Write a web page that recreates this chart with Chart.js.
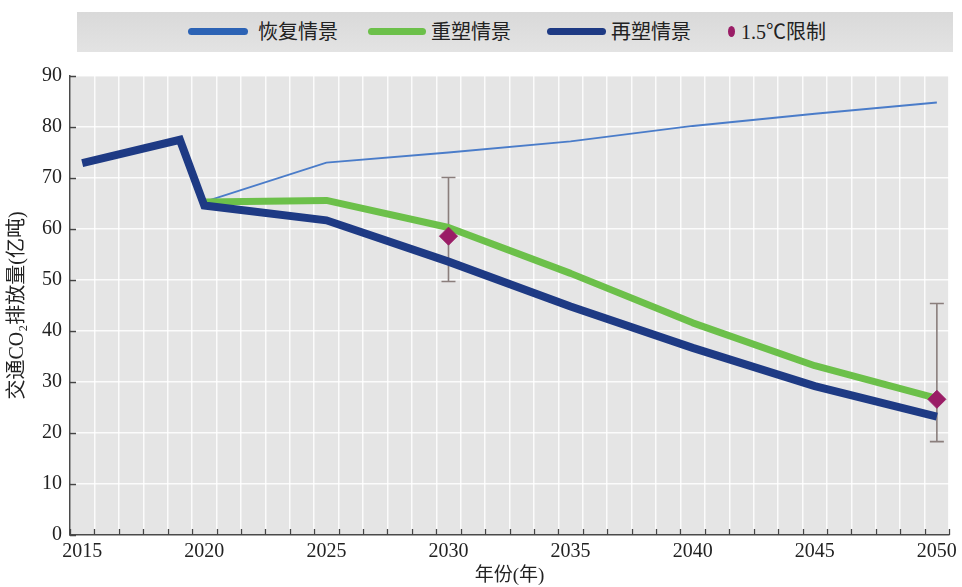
<!DOCTYPE html>
<html lang="zh">
<head>
<meta charset="utf-8">
<title>交通CO₂排放量</title>
<script src="https://cdn.jsdelivr.net/npm/chart.js@4/dist/chart.umd.min.js"></script>
<style>
  html, body { margin: 0; padding: 0; background: #ffffff; }
  #wrap { position: relative; width: 962px; height: 587px; overflow: hidden; }
  #chart { position: absolute; left: 0; top: 0; }
  #legend {
    position: absolute; left: 77px; top: 12px; width: 876px; height: 40px;
    background: linear-gradient(#d9d9d9, #e3e3e3);
    font-family: 'Liberation Serif', 'Noto Sans CJK SC', serif;
    font-size: 20px; color: #222;
  }
  .sw { position: absolute; top: 16px; height: 7px; border-radius: 4px; }
  .lt { position: absolute; top: 6px; line-height: 28px; white-space: nowrap; }
  .dot { position: absolute; top: 14px; width: 7px; height: 11px; border-radius: 50%; background: #9a1d66; }
</style>
</head>
<body>
<div id="wrap">
  <canvas id="chart" width="962" height="587"></canvas>
  <div id="legend">
    <span class="sw" style="left:111px;width:60px;background:#2c63b5"></span>
    <span class="lt" style="left:181px">恢复情景</span>
    <span class="sw" style="left:291px;width:58px;background:#6cc04a"></span>
    <span class="lt" style="left:354px">重塑情景</span>
    <span class="sw" style="left:470px;width:59px;background:#1e3a84"></span>
    <span class="lt" style="left:534px">再塑情景</span>
    <span class="dot" style="left:651px"></span>
    <span class="lt" style="left:664px">1.5℃限制</span>
  </div>
</div>
<script>
// Year categories along the x axis
const years = ['2015','2016','2017','2018','2019','2020','2021','2022','2023','2024',
  '2025','2026','2027','2028','2029','2030','2031','2032','2033','2034',
  '2035','2036','2037','2038','2039','2040','2041','2042','2043','2044',
  '2045','2046','2047','2048','2049','2050'];

// Scenario values (100 million tonnes CO2)
const scenarioYears = [2015, 2019, 2020, 2025, 2030, 2035, 2040, 2045, 2050];
const recoveryValues = [null, null, 65.3, 73.0, 75.0, 77.2, 80.2, 82.6, 84.8];
const reshapeValues  = [null, null, 65.3, 65.6, 60.3, 51.3, 41.6, 33.2, 26.8];
const remodelValues  = [72.9, 77.5, 64.6, 61.7, 53.6, 44.8, 36.7, 29.2, 23.2];

// 1.5°C pathway with its range
const limitYears = [2030, 2050];
const limitValues = [58.6, 26.6];
const limitLow = [49.7, 18.3];
const limitHigh = [70.1, 45.4];

// Y axis ticks
const yTicks = [0, 10, 20, 30, 40, 50, 60, 70, 80, 90];

const serif = "'Liberation Serif', 'Noto Sans CJK SC', serif";

function toPoints(yrs, vals) {
  return yrs.map((yr, i) => ({ x: String(yr), y: vals[i] })).filter(p => p.y !== null);
}

const plotBackground = {
  id: 'plotBackground',
  beforeDraw(chart) {
    const { ctx, chartArea: a } = chart;
    ctx.save();
    ctx.fillStyle = '#e5e5e5';
    ctx.fillRect(a.left, a.top, a.right - a.left, a.bottom - a.top);
    ctx.restore();
  }
};

const rangeBars = {
  id: 'rangeBars',
  beforeDatasetsDraw(chart) {
    const { ctx, scales: { x, y } } = chart;
    ctx.save();
    ctx.strokeStyle = '#8a7e7c';
    ctx.lineWidth = 1.6;
    limitYears.forEach((yr, i) => {
      const px = x.getPixelForValue(years.indexOf(String(yr)));
      const top = y.getPixelForValue(limitHigh[i]);
      const bot = y.getPixelForValue(limitLow[i]);
      ctx.beginPath();
      ctx.moveTo(px, top); ctx.lineTo(px, bot);
      ctx.moveTo(px - 7, top); ctx.lineTo(px + 7, top);
      ctx.moveTo(px - 7, bot); ctx.lineTo(px + 7, bot);
      ctx.stroke();
    });
    ctx.restore();
  }
};

// Short inward tick marks on both axes
const innerTicks = {
  id: 'innerTicks',
  afterDraw(chart) {
    const { ctx, chartArea: a, scales: { x, y } } = chart;
    ctx.save();
    ctx.strokeStyle = '#444';
    ctx.lineWidth = 1.3;
    ctx.beginPath();
    for (let i = 0; i <= years.length; i++) {
      const px = Math.round(x.getPixelForValue(i - 0.5)) + 0.5;
      ctx.moveTo(px, a.bottom); ctx.lineTo(px, a.bottom - 6);
    }
    yTicks.forEach(v => {
      const py = Math.round(y.getPixelForValue(v)) + 0.5;
      ctx.moveTo(a.left, py); ctx.lineTo(a.left + 6, py);
    });
    ctx.stroke();
    ctx.restore();
  }
};

new Chart(document.getElementById('chart'), {
  type: 'line',
  data: {
    labels: years,
    datasets: [
      {
        label: '1.5℃限制',
        data: toPoints(limitYears, limitValues),
        showLine: false,
        pointStyle: 'rectRot',
        pointRadius: 9,
        pointBackgroundColor: '#9a1d66',
        pointBorderColor: '#9a1d66',
        pointBorderWidth: 1,
        order: 0
      },
      {
        label: '再塑情景',
        data: toPoints(scenarioYears, remodelValues),
        borderColor: '#1e3a84',
        borderWidth: 8,
        borderJoinStyle: 'miter',
        pointRadius: 0,
        order: 1
      },
      {
        label: '重塑情景',
        data: toPoints(scenarioYears, reshapeValues),
        borderColor: '#6cc04a',
        borderWidth: 7,
        borderJoinStyle: 'round',
        pointRadius: 0,
        order: 2
      },
      {
        label: '恢复情景',
        data: toPoints(scenarioYears, recoveryValues),
        borderColor: '#4a7cc9',
        borderWidth: 1.8,
        pointRadius: 0,
        order: 3
      }
    ]
  },
  options: {
    responsive: false,
    animation: false,
    devicePixelRatio: 1,
    layout: { padding: { top: 76, right: 9, bottom: 0, left: 0 } },
    plugins: {
      legend: { display: false },
      tooltip: { enabled: false }
    },
    scales: {
      x: {
        type: 'category',
        offset: true,
        grid: { offset: true, color: 'rgba(255,255,255,0.85)', lineWidth: 1.5, drawTicks: false },
        border: { color: '#4a4a4a', width: 1.5 },
        ticks: {
          autoSkip: false, maxRotation: 0, padding: 5,
          color: '#222', font: { family: serif, size: 20 },
          callback: (v, i) => (Number(years[i]) % 5 === 0 ? years[i] : '')
        },
        title: {
          display: true, text: '年份(年)', color: '#222',
          font: { family: serif, size: 19 }, padding: { top: 0, bottom: 0 }
        },
        afterFit: s => { s.height = 52; }
      },
      y: {
        min: 0, max: 90,
        afterBuildTicks: s => { s.ticks = yTicks.map(v => ({ value: v })); },
        grid: { color: 'rgba(255,255,255,0.85)', lineWidth: 1.5, drawTicks: false },
        border: { color: '#4a4a4a', width: 1.5 },
        ticks: { padding: 8, color: '#222', font: { family: serif, size: 20 } },
        title: {
          display: true, text: '交通CO₂排放量(亿吨)', color: '#222',
          font: { family: serif, size: 20 }, padding: { top: 6, bottom: 0 }
        },
        afterFit: s => { s.width = 70; }
      }
    }
  },
  plugins: [plotBackground, rangeBars, innerTicks]
});
</script>
</body>
</html>
